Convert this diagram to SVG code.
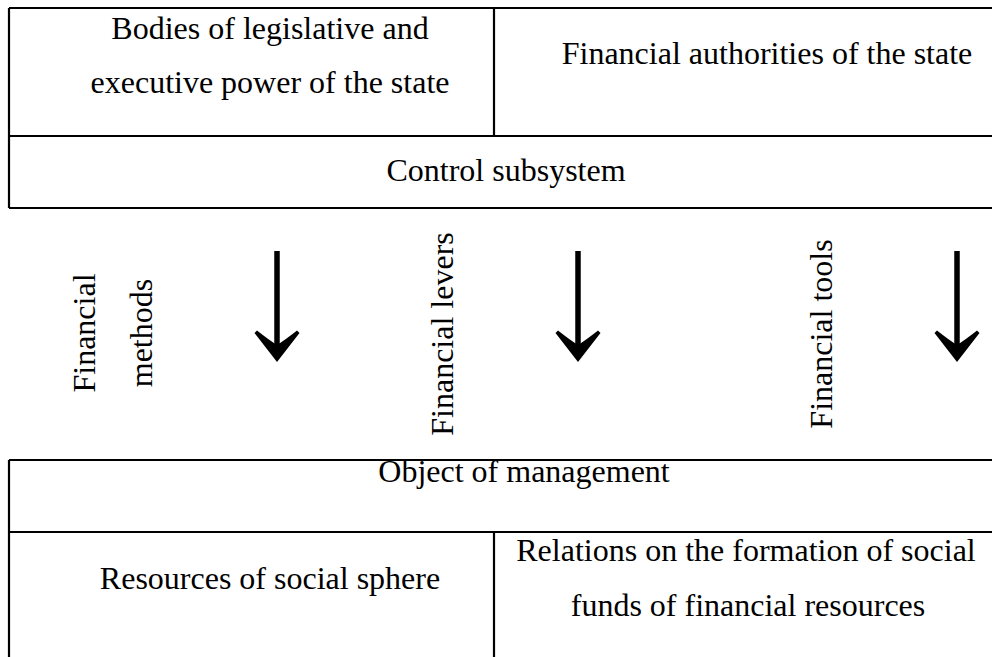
<svg xmlns="http://www.w3.org/2000/svg" width="992" height="657" viewBox="0 0 992 657">
<defs>
<style>
.ln{stroke:#000;stroke-width:2.2;fill:none}
.t{font-family:"Liberation Serif","Times New Roman",serif;font-size:32px;fill:#000;text-anchor:middle}
.sh{stroke:#000;stroke-width:5.5;fill:none}
.hd{fill:#000;stroke:none}
</style>
<path id="head" d="M0 12 L-22.5 -17 L-20 -19.5 Q-8 -10 0 -5 Q8 -10 20 -19.5 L22.5 -17 Z"/>
</defs>
<rect width="992" height="657" fill="#fff"/>
<g id="control-table">
<path class="ln" d="M9 8 H992 M9 8 V208 M9 136 H992 M9 208 H992 M494 8 V136"/>
</g>
<g id="bodies"><text class="t" x="270" y="39">Bodies of legislative and</text><text class="t" x="270" y="93">executive power of the state</text></g>
<g id="fin-authorities"><text class="t" x="767" y="64">Financial authorities of the state</text></g>
<g id="control-subsystem"><text class="t" x="506" y="181">Control subsystem</text></g>
<g id="fin-methods">
<text class="t" transform="translate(95,333) rotate(-90)">Financial</text>
<text class="t" transform="translate(152,333) rotate(-90)">methods</text>
</g>
<g id="fin-levers"><text class="t" transform="translate(453,334) rotate(-90)">Financial levers</text></g>
<g id="fin-tools"><text class="t" transform="translate(832,334) rotate(-90)">Financial tools</text></g>
<g id="object-table">
<path class="ln" d="M9 460 H992 M9 460 V657 M9 532 H992 M494 532 V657"/>
</g>
<g id="object"><text class="t" x="524" y="482">Object of management</text></g>
<g id="resources"><text class="t" x="270" y="589">Resources of social sphere</text></g>
<g id="relations"><text class="t" x="746" y="561">Relations on the formation of social</text><text class="t" x="748" y="616">funds of financial resources</text></g>
<g id="connectors">
<line class="sh" x1="277" y1="251" x2="277" y2="352"/>
<use href="#head" class="hd" x="277" y="350"/>
<line class="sh" x1="578" y1="251" x2="578" y2="352"/>
<use href="#head" class="hd" x="578" y="350"/>
<line class="sh" x1="957" y1="251" x2="957" y2="352"/>
<use href="#head" class="hd" x="957" y="350"/>
</g>
</svg>
